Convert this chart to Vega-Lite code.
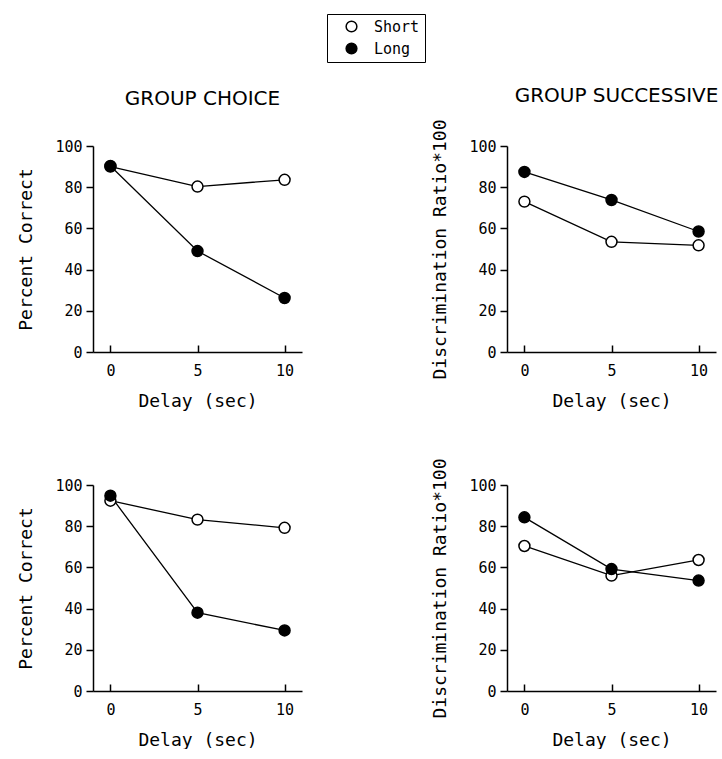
{
  "$schema": "https://vega.github.io/schema/vega-lite/v6.json",
  "background": "white",
  "padding": {"left": 17, "top": 13, "right": 0, "bottom": 0},
  "datasets": {
    "pts": [
      {"panel": "TL", "group": "Short", "delay": 0, "value": 90},
      {"panel": "TL", "group": "Short", "delay": 5, "value": 80.3},
      {"panel": "TL", "group": "Short", "delay": 10, "value": 83.6},
      {"panel": "TL", "group": "Long", "delay": 0, "value": 90.3},
      {"panel": "TL", "group": "Long", "delay": 5, "value": 49},
      {"panel": "TL", "group": "Long", "delay": 10, "value": 26.2},
      {"panel": "TR", "group": "Short", "delay": 0, "value": 73},
      {"panel": "TR", "group": "Short", "delay": 5, "value": 53.5},
      {"panel": "TR", "group": "Short", "delay": 10, "value": 51.8},
      {"panel": "TR", "group": "Long", "delay": 0, "value": 87.4},
      {"panel": "TR", "group": "Long", "delay": 5, "value": 73.8},
      {"panel": "TR", "group": "Long", "delay": 10, "value": 58.5},
      {"panel": "BL", "group": "Short", "delay": 0, "value": 92.4},
      {"panel": "BL", "group": "Short", "delay": 5, "value": 83.2},
      {"panel": "BL", "group": "Short", "delay": 10, "value": 79.2},
      {"panel": "BL", "group": "Long", "delay": 0, "value": 94.8},
      {"panel": "BL", "group": "Long", "delay": 5, "value": 38},
      {"panel": "BL", "group": "Long", "delay": 10, "value": 29.4},
      {"panel": "BR", "group": "Short", "delay": 0, "value": 70.4},
      {"panel": "BR", "group": "Short", "delay": 5, "value": 56},
      {"panel": "BR", "group": "Short", "delay": 10, "value": 63.6},
      {"panel": "BR", "group": "Long", "delay": 0, "value": 84.3},
      {"panel": "BR", "group": "Long", "delay": 5, "value": 59.2},
      {"panel": "BR", "group": "Long", "delay": 10, "value": 53.6}
    ]
  },
  "config": {
    "view": {"stroke": null},
    "font": "DejaVu Sans Mono",
    "axis": {
      "grid": false,
      "domainColor": "black",
      "domainWidth": 1.5,
      "tickColor": "black",
      "tickWidth": 1.5,
      "labelColor": "black",
      "labelFont": "DejaVu Sans Mono",
      "labelFontSize": 15,
      "titleColor": "black",
      "titleFont": "DejaVu Sans Mono",
      "titleFontSize": 18,
      "titleFontWeight": "normal"
    },
    "axisX": {"tickSize": -7, "labelPadding": 18, "titlePadding": 14, "labelFlush": false},
    "axisY": {"tickSize": 7, "labelPadding": 4, "titlePadding": 19},
    "title": {"font": "DejaVu Sans", "fontSize": 20, "fontWeight": "normal", "color": "black"},
    "legend": {
      "orient": "none",
      "legendX": 234,
      "legendY": -132,
      "strokeColor": "black",
      "padding": 5,
      "symbolOffset": 12,
      "labelOffset": 15,
      "rowPadding": 5,
      "symbolSize": 115,
      "symbolStrokeWidth": 1.5,
      "symbolStrokeColor": "black",
      "labelFont": "DejaVu Sans Mono",
      "labelFontSize": 15,
      "labelColor": "black"
    }
  },
  "bounds": "flush",
  "columns": 2,
  "spacing": {"row": 133, "column": 205},
  "concat": [
    {
      "title": {"text": "GROUP CHOICE", "offset": 30, "dx": 5},
      "width": 209,
      "height": 206,
      "data": {"name": "pts"},
      "transform": [{"filter": "datum.panel === 'TL'"}],
      "layer": [
        {
          "mark": {"type": "line", "color": "black", "strokeWidth": 1.3},
          "encoding": {
            "x": {"field": "delay", "type": "quantitative", "scale": {"domain": [-1, 11], "nice": false, "zero": false}, "axis": {"values": [0, 5, 10], "title": "Delay (sec)"}},
            "y": {"field": "value", "type": "quantitative", "scale": {"domain": [0, 100], "nice": false}, "axis": {"values": [0, 20, 40, 60, 80, 100], "title": "Percent Correct"}},
            "detail": {"field": "group"}
          }
        },
        {
          "mark": {"type": "point", "shape": "circle", "size": 120, "stroke": "black", "strokeWidth": 1.5, "opacity": 1, "filled": true},
          "encoding": {
            "x": {"field": "delay", "type": "quantitative"},
            "y": {"field": "value", "type": "quantitative"},
            "fill": {"field": "group", "type": "nominal", "scale": {"domain": ["Short", "Long"], "range": ["white", "black"]}, "legend": {"title": null}}
          }
        }
      ]
    },
    {
      "title": {"text": "GROUP SUCCESSIVE", "offset": 13, "dx": 5},
      "width": 209,
      "height": 206,
      "data": {"name": "pts"},
      "transform": [{"filter": "datum.panel === 'TR'"}],
      "layer": [
        {
          "mark": {"type": "line", "color": "black", "strokeWidth": 1.3},
          "encoding": {
            "x": {"field": "delay", "type": "quantitative", "scale": {"domain": [-1, 11], "nice": false, "zero": false}, "axis": {"values": [0, 5, 10], "title": "Delay (sec)"}},
            "y": {"field": "value", "type": "quantitative", "scale": {"domain": [0, 100], "nice": false}, "axis": {"values": [0, 20, 40, 60, 80, 100], "title": "Discrimination Ratio*100"}},
            "detail": {"field": "group"}
          }
        },
        {
          "mark": {"type": "point", "shape": "circle", "size": 120, "stroke": "black", "strokeWidth": 1.5, "opacity": 1, "filled": true},
          "encoding": {
            "x": {"field": "delay", "type": "quantitative"},
            "y": {"field": "value", "type": "quantitative"},
            "fill": {"field": "group", "type": "nominal", "scale": {"domain": ["Short", "Long"], "range": ["white", "black"]}, "legend": {"title": null}}
          }
        }
      ]
    },
    {
      "width": 209,
      "height": 206,
      "data": {"name": "pts"},
      "transform": [{"filter": "datum.panel === 'BL'"}],
      "layer": [
        {
          "mark": {"type": "line", "color": "black", "strokeWidth": 1.3},
          "encoding": {
            "x": {"field": "delay", "type": "quantitative", "scale": {"domain": [-1, 11], "nice": false, "zero": false}, "axis": {"values": [0, 5, 10], "title": "Delay (sec)"}},
            "y": {"field": "value", "type": "quantitative", "scale": {"domain": [0, 100], "nice": false}, "axis": {"values": [0, 20, 40, 60, 80, 100], "title": "Percent Correct"}},
            "detail": {"field": "group"}
          }
        },
        {
          "mark": {"type": "point", "shape": "circle", "size": 120, "stroke": "black", "strokeWidth": 1.5, "opacity": 1, "filled": true},
          "encoding": {
            "x": {"field": "delay", "type": "quantitative"},
            "y": {"field": "value", "type": "quantitative"},
            "fill": {"field": "group", "type": "nominal", "scale": {"domain": ["Short", "Long"], "range": ["white", "black"]}, "legend": {"title": null}}
          }
        }
      ]
    },
    {
      "width": 209,
      "height": 206,
      "data": {"name": "pts"},
      "transform": [{"filter": "datum.panel === 'BR'"}],
      "layer": [
        {
          "mark": {"type": "line", "color": "black", "strokeWidth": 1.3},
          "encoding": {
            "x": {"field": "delay", "type": "quantitative", "scale": {"domain": [-1, 11], "nice": false, "zero": false}, "axis": {"values": [0, 5, 10], "title": "Delay (sec)"}},
            "y": {"field": "value", "type": "quantitative", "scale": {"domain": [0, 100], "nice": false}, "axis": {"values": [0, 20, 40, 60, 80, 100], "title": "Discrimination Ratio*100"}},
            "detail": {"field": "group"}
          }
        },
        {
          "mark": {"type": "point", "shape": "circle", "size": 120, "stroke": "black", "strokeWidth": 1.5, "opacity": 1, "filled": true},
          "encoding": {
            "x": {"field": "delay", "type": "quantitative"},
            "y": {"field": "value", "type": "quantitative"},
            "fill": {"field": "group", "type": "nominal", "scale": {"domain": ["Short", "Long"], "range": ["white", "black"]}, "legend": {"title": null}}
          }
        }
      ]
    }
  ]
}
